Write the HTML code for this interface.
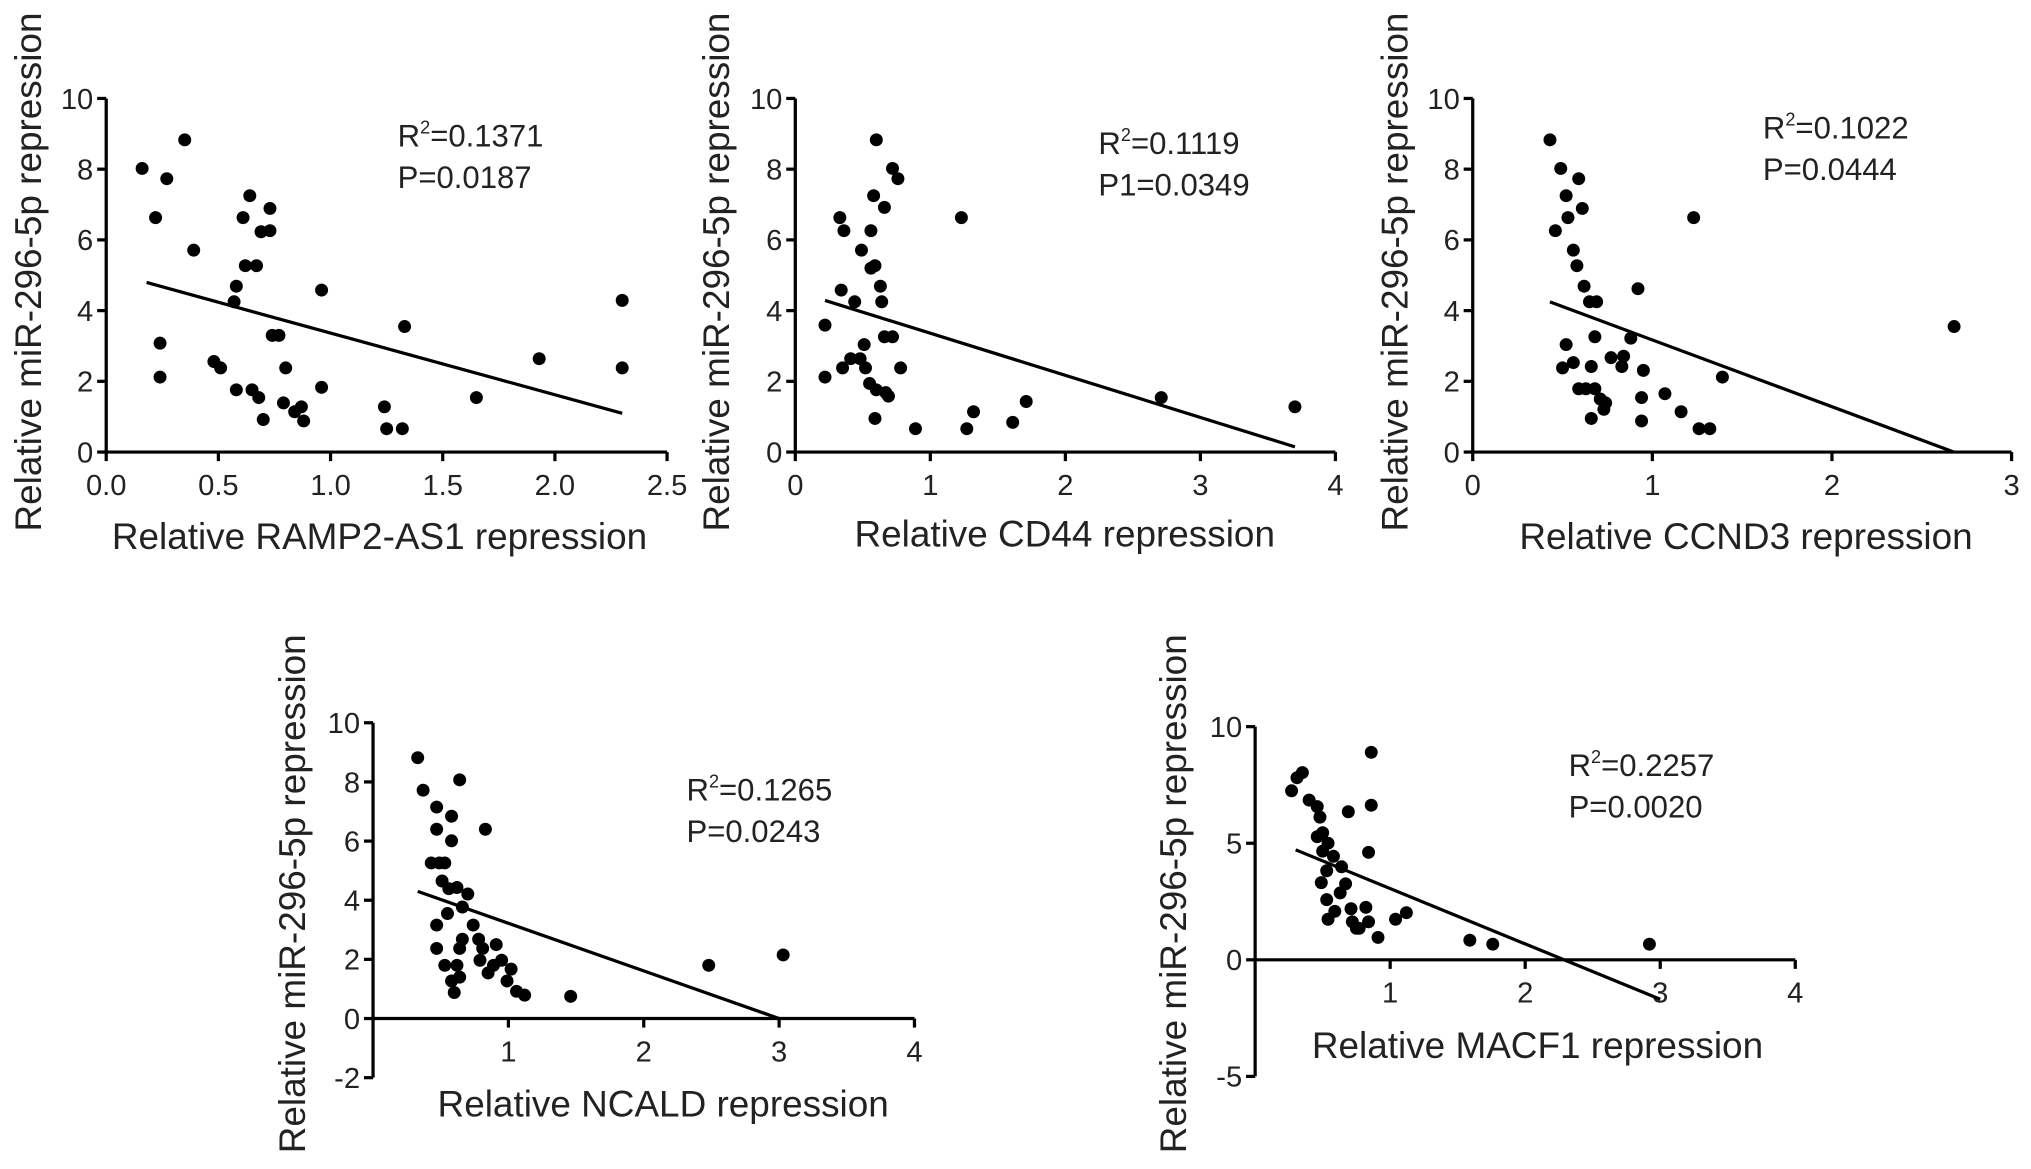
<!DOCTYPE html>
<html><head><meta charset="utf-8"><style>
html,body{margin:0;padding:0;background:#fff;}
svg{display:block;font-family:"Liberation Sans",Arial,sans-serif;}
</style></head><body>
<svg id="fig" width="2031" height="1169" viewBox="0 0 1568 902.5" xmlns="http://www.w3.org/2000/svg"></svg>
<script>
// ---- data ----
const p1X=[0.16,0.27,0.35,0.22,0.39,0.24,0.24,0.48,0.51,0.58,0.57,0.58,0.61,0.62,0.64,0.67,0.65,0.68,0.70,0.73,0.73,0.69,0.74,0.77,0.79,0.80,0.84,0.87,0.88,0.96,0.96,1.24,1.25,1.32,1.33,1.65,1.93,2.30,2.30];
const p1Y=[8.02,7.73,8.83,6.63,5.71,3.08,2.12,2.56,2.38,1.76,4.25,4.69,6.63,5.27,7.25,5.27,1.76,1.54,0.92,6.89,6.26,6.23,3.30,3.30,1.39,2.38,1.14,1.28,0.88,4.58,1.83,1.28,0.66,0.66,3.55,1.54,2.64,4.29,2.38];
const p2X=[0.22,0.22,0.33,0.36,0.34,0.44,0.35,0.41,0.48,0.52,0.51,0.49,0.56,0.55,0.56,0.58,0.60,0.59,0.59,0.60,0.64,0.66,0.63,0.67,0.69,0.66,0.72,0.72,0.76,0.78,0.89,1.23,1.27,1.32,1.61,1.71,2.71,3.70];
const p2Y=[3.59,2.12,6.63,6.26,4.58,4.25,2.38,2.64,2.64,2.38,3.04,5.71,5.20,1.94,6.26,7.25,8.83,5.27,0.95,1.76,4.25,6.92,4.69,1.68,1.58,3.26,3.26,8.02,7.73,2.38,0.66,6.63,0.66,1.14,0.84,1.43,1.54,1.28];
const p3X=[0.43,0.46,0.49,0.52,0.53,0.56,0.58,0.59,0.61,0.62,0.65,0.66,0.52,0.50,0.56,0.59,0.63,0.68,0.71,0.66,0.69,0.68,0.73,0.74,0.77,0.83,0.84,0.88,0.92,0.95,0.94,0.94,1.07,1.16,1.23,1.26,1.32,1.39,2.68];
const p3Y=[8.83,6.26,8.02,7.25,6.63,5.71,5.27,7.73,6.89,4.69,4.25,2.42,3.04,2.38,2.53,1.79,1.79,1.79,1.50,0.95,4.25,3.26,1.21,1.39,2.67,2.42,2.71,3.22,4.62,2.31,1.54,0.88,1.65,1.14,6.63,0.66,0.66,2.12,3.55];
const p4X=[0.33,0.37,0.47,0.47,0.49,0.43,0.51,0.53,0.58,0.64,0.58,0.56,0.55,0.47,0.47,0.53,0.58,0.60,0.62,0.64,0.66,0.66,0.70,0.74,0.78,0.79,0.64,0.81,0.85,0.89,0.83,0.91,0.95,0.99,1.02,1.06,1.12,1.46,2.48,3.03,0.62];
const p4Y=[8.82,7.72,7.15,6.40,5.26,5.26,4.65,5.26,6.84,8.07,6.01,4.39,3.55,3.16,2.37,1.80,1.27,0.88,1.80,1.40,2.68,3.77,4.21,3.16,2.68,1.97,2.37,2.37,1.54,1.80,6.40,2.50,1.97,1.27,1.67,0.92,0.79,0.75,1.80,2.15,4.43];
const p5X=[0.27,0.31,0.35,0.40,0.46,0.48,0.50,0.46,0.50,0.54,0.53,0.49,0.53,0.58,0.54,0.59,0.63,0.64,0.67,0.71,0.69,0.72,0.75,0.77,0.82,0.84,0.84,0.86,0.86,0.91,1.04,1.12,1.59,1.76,2.92];
const p5Y=[7.25,7.81,8.03,6.85,6.57,6.12,5.45,5.28,4.66,5.00,3.82,3.31,2.58,4.44,1.74,2.08,2.87,3.99,3.26,2.19,6.35,1.63,1.35,1.35,2.25,4.61,1.63,8.90,6.63,0.96,1.74,2.02,0.84,0.67,0.67];
const xTicks1=[0,0.5,1,1.5,2,2.5], xLabels1=["0.0","0.5","1.0","1.5","2.0","2.5"];
const xTicks2=[0,1,2,3,4], xLabels2=["0","1","2","3","4"];
const xTicks3=[0,1,2,3], xLabels3=["0","1","2","3"];
const xTicks45=[1,2,3,4], xLabels45=["1","2","3","4"];
const yTicks123=[0,2,4,6,8,10];
const yTicks4=[-2,0,2,4,6,8,10];
const yTicks5=[-5,0,5,10];
const fitSlopes=[-1.745,-1.19,-1.889,-1.61,-2.374];
const fitIntercepts=[5.11,4.55,5.06,4.83,5.43];
const fitRanges=[[0.18,2.30],[0.22,3.70],[0.43,2.68],[0.33,3.0],[0.30,3.0]];

const NS="http://www.w3.org/2000/svg";
const svg=document.getElementById('fig');
function mk(t,a,parent){const e=document.createElementNS(NS,t);for(const k in a)e.setAttribute(k,a[k]);(parent||svg).appendChild(e);return e;}

const panels=[
 {id:'ramp2',X:p1X,Y:p1Y,x0:82,x1:515,xmin:0,xmax:2.5,yTop:76,yBot:349,ymin:0,ymax:10,axisY:0,xt:xTicks1,xl:xLabels1,yt:yTicks123,xTitle:"Relative RAMP2-AS1 repression",xtx:293,xty:424,ytx:22,yty:210,r2:"0.1371",p:"P=0.0187",ax:307,ay:113},
 {id:'cd44',X:p2X,Y:p2Y,x0:614,x1:1031,xmin:0,xmax:4,yTop:76,yBot:349,ymin:0,ymax:10,axisY:0,xt:xTicks2,xl:xLabels2,yt:yTicks123,xTitle:"Relative CD44 repression",xtx:822,xty:422,ytx:553,yty:210,r2:"0.1119",p:"P1=0.0349",ax:848,ay:119},
 {id:'ccnd3',X:p3X,Y:p3Y,x0:1137,x1:1553,xmin:0,xmax:3,yTop:76,yBot:349,ymin:0,ymax:10,axisY:0,xt:xTicks3,xl:xLabels3,yt:yTicks123,xTitle:"Relative CCND3 repression",xtx:1348,xty:424,ytx:1077,yty:210,r2:"0.1022",p:"P=0.0444",ax:1361,ay:107},
 {id:'ncald',X:p4X,Y:p4Y,x0:288,x1:706,xmin:0,xmax:4,yTop:558,yBot:832,ymin:-2,ymax:10,axisY:0,xt:xTicks45,xl:xLabels45,yt:yTicks4,xTitle:"Relative NCALD repression",xtx:512,xty:862,ytx:226,yty:690,r2:"0.1265",p:"P=0.0243",ax:530,ay:618},
 {id:'macf1',X:p5X,Y:p5Y,x0:969,x1:1386,xmin:0,xmax:4,yTop:561,yBot:831,ymin:-5,ymax:10,axisY:0,xt:xTicks45,xl:xLabels45,yt:yTicks5,xTitle:"Relative MACF1 repression",xtx:1187,xty:817,ytx:906,yty:690,r2:"0.2257",p:"P=0.0020",ax:1211,ay:599}
];

panels.forEach((P,i)=>{
 const g=mk('g',{});
 
 
 const sx=v=>P.x0+(v-P.xmin)/(P.xmax-P.xmin)*(P.x1-P.x0);
 const sy=v=>P.yBot-(v-P.ymin)/(P.ymax-P.ymin)*(P.yBot-P.yTop);
 const ay=sy(P.axisY);
 const ya=mk('line',{x1:P.x0,y1:P.yTop,x2:P.x0,y2:P.yBot,stroke:'#000','stroke-width':2.5},g);
 
 
 const xa=mk('line',{x1:P.x0,y1:ay,x2:P.x1,y2:ay,stroke:'#000','stroke-width':2.5},g);
 
 
 P.yt.forEach(v=>{
  mk('line',{x1:P.x0-7,y1:sy(v),x2:P.x0,y2:sy(v),stroke:'#000','stroke-width':2.5},g);
  const t=mk('text',{x:P.x0-10,y:sy(v)+8,'text-anchor':'end','font-size':22.5,fill:'#222'},g);
  t.textContent=v;
  
  
 });
 P.xt.forEach((v,k)=>{
  mk('line',{x1:sx(v),y1:ay,x2:sx(v),y2:ay+7,stroke:'#000','stroke-width':2.5},g);
  const t=mk('text',{x:sx(v),y:ay+33,'text-anchor':'middle','font-size':22.5,fill:'#222'},g);
  t.textContent=P.xl[k];
  
  
 });
 P.X.forEach((x,k)=>{
  const c=mk('circle',{cx:sx(x),cy:sy(P.Y[k]),r:5,fill:'#000'},g);
  
  
 });
 const [a,b]=fitRanges[i];
 const fl=mk('line',{x1:sx(a),y1:sy(fitSlopes[i]*a+fitIntercepts[i]),x2:sx(b),y2:sy(fitSlopes[i]*b+fitIntercepts[i]),stroke:'#000','stroke-width':2.5},g);
 
 
 const xt=mk('text',{x:P.xtx,y:P.xty,'text-anchor':'middle','font-size':28.5,fill:'#222'},g);
 xt.textContent=P.xTitle;
 
 
 const yt=mk('text',{x:P.ytx,y:P.yty,'text-anchor':'middle','dominant-baseline':'central','font-size':28.5,fill:'#222',transform:'rotate(-90 '+P.ytx+' '+P.yty+')'},g);
 yt.textContent="Relative miR-296-5p repression";
 
 
 const r=mk('text',{x:P.ax,y:P.ay,'font-size':24,fill:'#222'},g);
 r.innerHTML='R<tspan font-size="14" dy="-10">2</tspan><tspan dy="10">='+P.r2+'</tspan>';
 
 
 const pt=mk('text',{x:P.ax,y:P.ay+32,'font-size':24,fill:'#222'},g);
 pt.textContent=P.p;
 
 
});
</script>
</body></html>
